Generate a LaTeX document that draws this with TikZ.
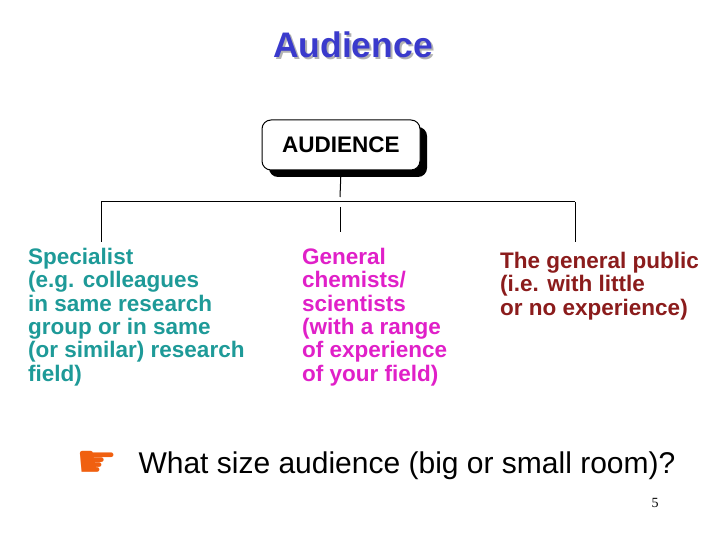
\documentclass[tikz,border=0pt]{standalone}
\usepackage{fontspec}
\setmainfont{Liberation Sans}
\newfontfamily\dejavu{DejaVu Sans}
\newfontfamily\serifnum{Liberation Serif}
\definecolor{ttl}{HTML}{3A3ACC}
\definecolor{teal1}{HTML}{1E9A98}
\definecolor{mag}{HTML}{E020C8}
\definecolor{dred}{HTML}{8B1C1C}
\definecolor{hand}{HTML}{F06010}
\begin{document}
\begin{tikzpicture}[x=1pt,y=-1pt,
  cat/.style={anchor=north west,align=left,font=\fontsize{22.5}{23.3}\selectfont\bfseries,inner sep=0pt},
  ln/.style={line width=1pt}]
\useasboundingbox (0,0) rectangle (720,540);
\node[text=gray!60,font=\fontsize{35.5}{40}\selectfont\bfseries] at (355,47) {Audience};
\node (title) [text=ttl,font=\fontsize{35.5}{40}\selectfont\bfseries] at (353,45) {Audience};
\fill[black,rounded corners=9pt] (269,127) rectangle (427,177);
\node (box) [draw,fill=white,rounded corners=9pt,line width=1pt,minimum width=158pt,minimum height=50pt,font=\fontsize{22.5}{24}\selectfont\bfseries] at (341,145) {AUDIENCE};
\coordinate (jl) at (101,202);
\coordinate (jr) at (575,202);
\draw[ln] (box.south) -- (340,197);
\draw[ln] (jl) -- (jr);
\draw[ln] (jl) -- (101,242);
\draw[ln] (jr) -- (575,242);
\draw[ln] (340,207) -- (340,232);
\node (spec) [cat,text=teal1] at (28,248) {Specialist\\(e.g. colleagues\\in same research\\group or in same\\(or similar) research\\field)};
\node (gen) [cat,text=mag] at (302,248) {General\\chemists/\\scientists\\(with a range\\of experience\\of your field)};
\node (pub) [cat,text=dred] at (500,252) {The general public\\(i.e. with little\\or no experience)};
\node (hnd) [text=hand,font=\dejavu\fontsize{46}{46}\selectfont] at (97,464) {☛};
\node (q) [anchor=west,font=\fontsize{30}{32}\selectfont] at (135,466) {What size audience (big or small room)?};
\node (pg) [font=\serifnum\fontsize{14}{15}\selectfont] at (655,503) {5};
\end{tikzpicture}
\end{document}
